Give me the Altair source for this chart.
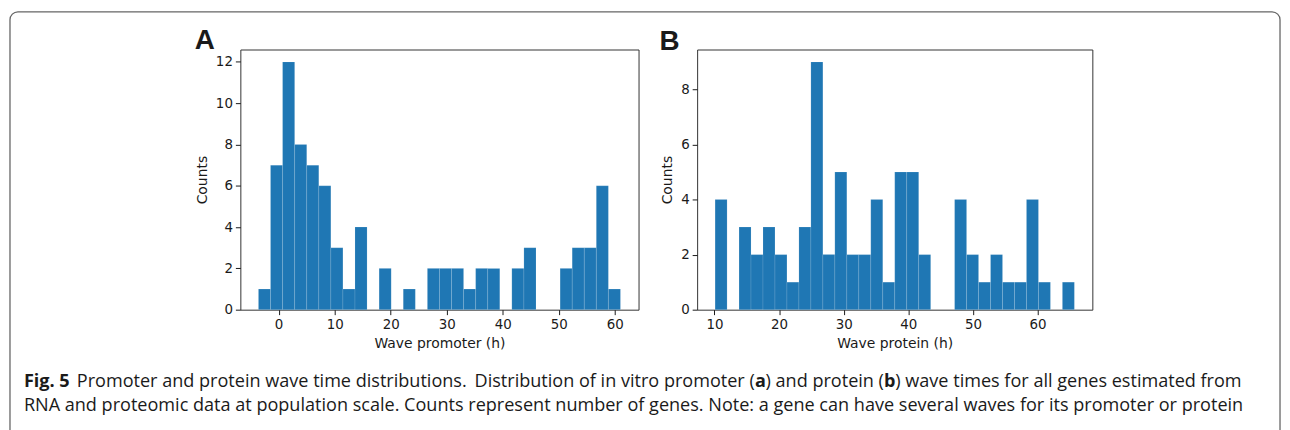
import altair as alt
import numpy as np
import pandas as pd

# ---- data (30-bin histograms) ----
promoter_counts = [1, 7, 12, 8, 7, 6, 3, 1, 4, 0,
                   2, 0, 1, 0, 2, 2, 2, 1, 2, 2,
                   0, 2, 3, 0, 0, 2, 3, 3, 6, 1]
promoter_min, promoter_max = -3.6, 61.0

protein_counts = [4, 0, 3, 2, 3, 2, 1, 3, 9, 2,
                  5, 2, 2, 4, 1, 5, 5, 2, 0, 0,
                  4, 2, 1, 2, 1, 1, 4, 1, 0, 1]
protein_min, protein_max = 10.1, 65.7

promoter_xticks = [0, 10, 20, 30, 40, 50, 60]
promoter_yticks = [0, 2, 4, 6, 8, 10, 12]
protein_xticks = [10, 20, 30, 40, 50, 60]
protein_yticks = [0, 2, 4, 6, 8]

# caption pieces of line 1: (text, bold, approximate advance width in em for Open Sans)
caption_line1 = [
    ("Fig. 5", True, 2.51),
    ("Promoter and protein wave time distributions.", False, 21.59),
    ("Distribution of in vitro promoter (", False, 15.52),
    ("a", True, 0.58),
    (") and protein (", False, 6.56),
    ("b", True, 0.62),
    (") wave times for all genes estimated from", False, 19.20),
]
# whether a (justified) word space follows each piece
caption_line1_space = [True, True, False, False, False, False, False]
caption_line2 = ("RNA and proteomic data at population scale. Counts represent number of genes. "
                 "Note: a gene can have several waves for its promoter or protein")

BLUE = "#1f77b4"
INK = "#1a1a1a"
AXFONT = "DejaVu Sans"
CAPFONT = "Open Sans"
CAPSIZE = 18.2


def hist_df(counts, lo, hi):
    edges = np.linspace(lo, hi, len(counts) + 1)
    return pd.DataFrame({"start": edges[:-1], "end": edges[1:], "count": counts})


def pad_domain(lo, hi, frac=0.05):
    span = hi - lo
    return [lo - frac * span, hi + frac * span]


one = pd.DataFrame({"k": [0]})


def axis(values, title):
    return alt.Axis(values=values, title=title, grid=False, domain=False,
                    tickSize=5, tickColor=INK, tickWidth=1,
                    labelFont=AXFONT, labelFontSize=13.5, labelColor=INK, labelPadding=3,
                    titleFont=AXFONT, titleFontSize=14, titleFontWeight="normal",
                    titleColor=INK, titlePadding=6)


def bars(df, xdom, ymax, xticks, yticks, xtitle, w):
    return alt.Chart(df).transform_filter("datum.count > 0").mark_rect(
        color=BLUE, stroke="#ffffff", strokeWidth=0.4, strokeOpacity=0.3
    ).encode(
        x=alt.X("start:Q", scale=alt.Scale(domain=xdom, nice=False, zero=False),
                axis=axis(xticks, xtitle)),
        x2="end:Q",
        y=alt.Y("count:Q", scale=alt.Scale(domain=[0, ymax], nice=False),
                axis=axis(yticks, "Counts")),
        y2=alt.datum(0),
    ).properties(width=w, height=262)


def text(s, x, y, size, bold=False, font=CAPFONT):
    return alt.Chart(one).mark_text(
        text=s, align="left", baseline="alphabetic", font=font, fontSize=size,
        fontWeight="bold" if bold else "normal", color=INK
    ).encode(x=alt.value(x), y=alt.value(y))


dfA = hist_df(promoter_counts, promoter_min, promoter_max)
dfB = hist_df(protein_counts, protein_min, protein_max)

barsA = bars(dfA, pad_domain(promoter_min, promoter_max), max(promoter_counts) * 1.05,
             promoter_xticks, promoter_yticks, "Wave promoter (h)", 401)
barsB = bars(dfB, pad_domain(protein_min, protein_max), max(protein_counts) * 1.05,
             protein_xticks, protein_yticks, "Wave protein (h)", 398)

border = alt.Chart(one).mark_rect(
    filled=False, stroke="#666666", strokeWidth=1.3, cornerRadius=8
).encode(x=alt.value(-232), x2=alt.value(1047), y=alt.value(-38), y2=alt.value(470))

letterA = text("A", -46, -1, 28, bold=True, font="Liberation Sans")
letterB = text("B", -38, 0, 28, bold=True, font="Liberation Sans")

# caption, laid out relative to panel A's plot area; line 1 justified to line width
CAP_LEFT, CAP_RIGHT = -218, 1009
CY1, CY2 = 340, 364
natural = sum(w for _, _, w in caption_line1) * CAPSIZE
n_sp = sum(caption_line1_space)
space = (CAP_RIGHT - CAP_LEFT - natural) / n_sp
cap = []
x = CAP_LEFT
for (s, b, w), sp in zip(caption_line1, caption_line1_space):
    cap.append(text(s, x, CY1, CAPSIZE, bold=b))
    x += w * CAPSIZE + (space if sp else 0)
cap.append(text(caption_line2, CAP_LEFT, CY2, CAPSIZE))

panelA = alt.layer(border, barsA, letterA, *cap)
panelB = alt.layer(barsB, letterB)

chart = alt.hconcat(panelA, panelB, spacing=59, bounds="flush").properties(
    padding=0, background="white"
).configure_view(stroke="#333333", strokeWidth=1)

chart.save("out.html", embed_options={"renderer": "svg", "actions": False})
